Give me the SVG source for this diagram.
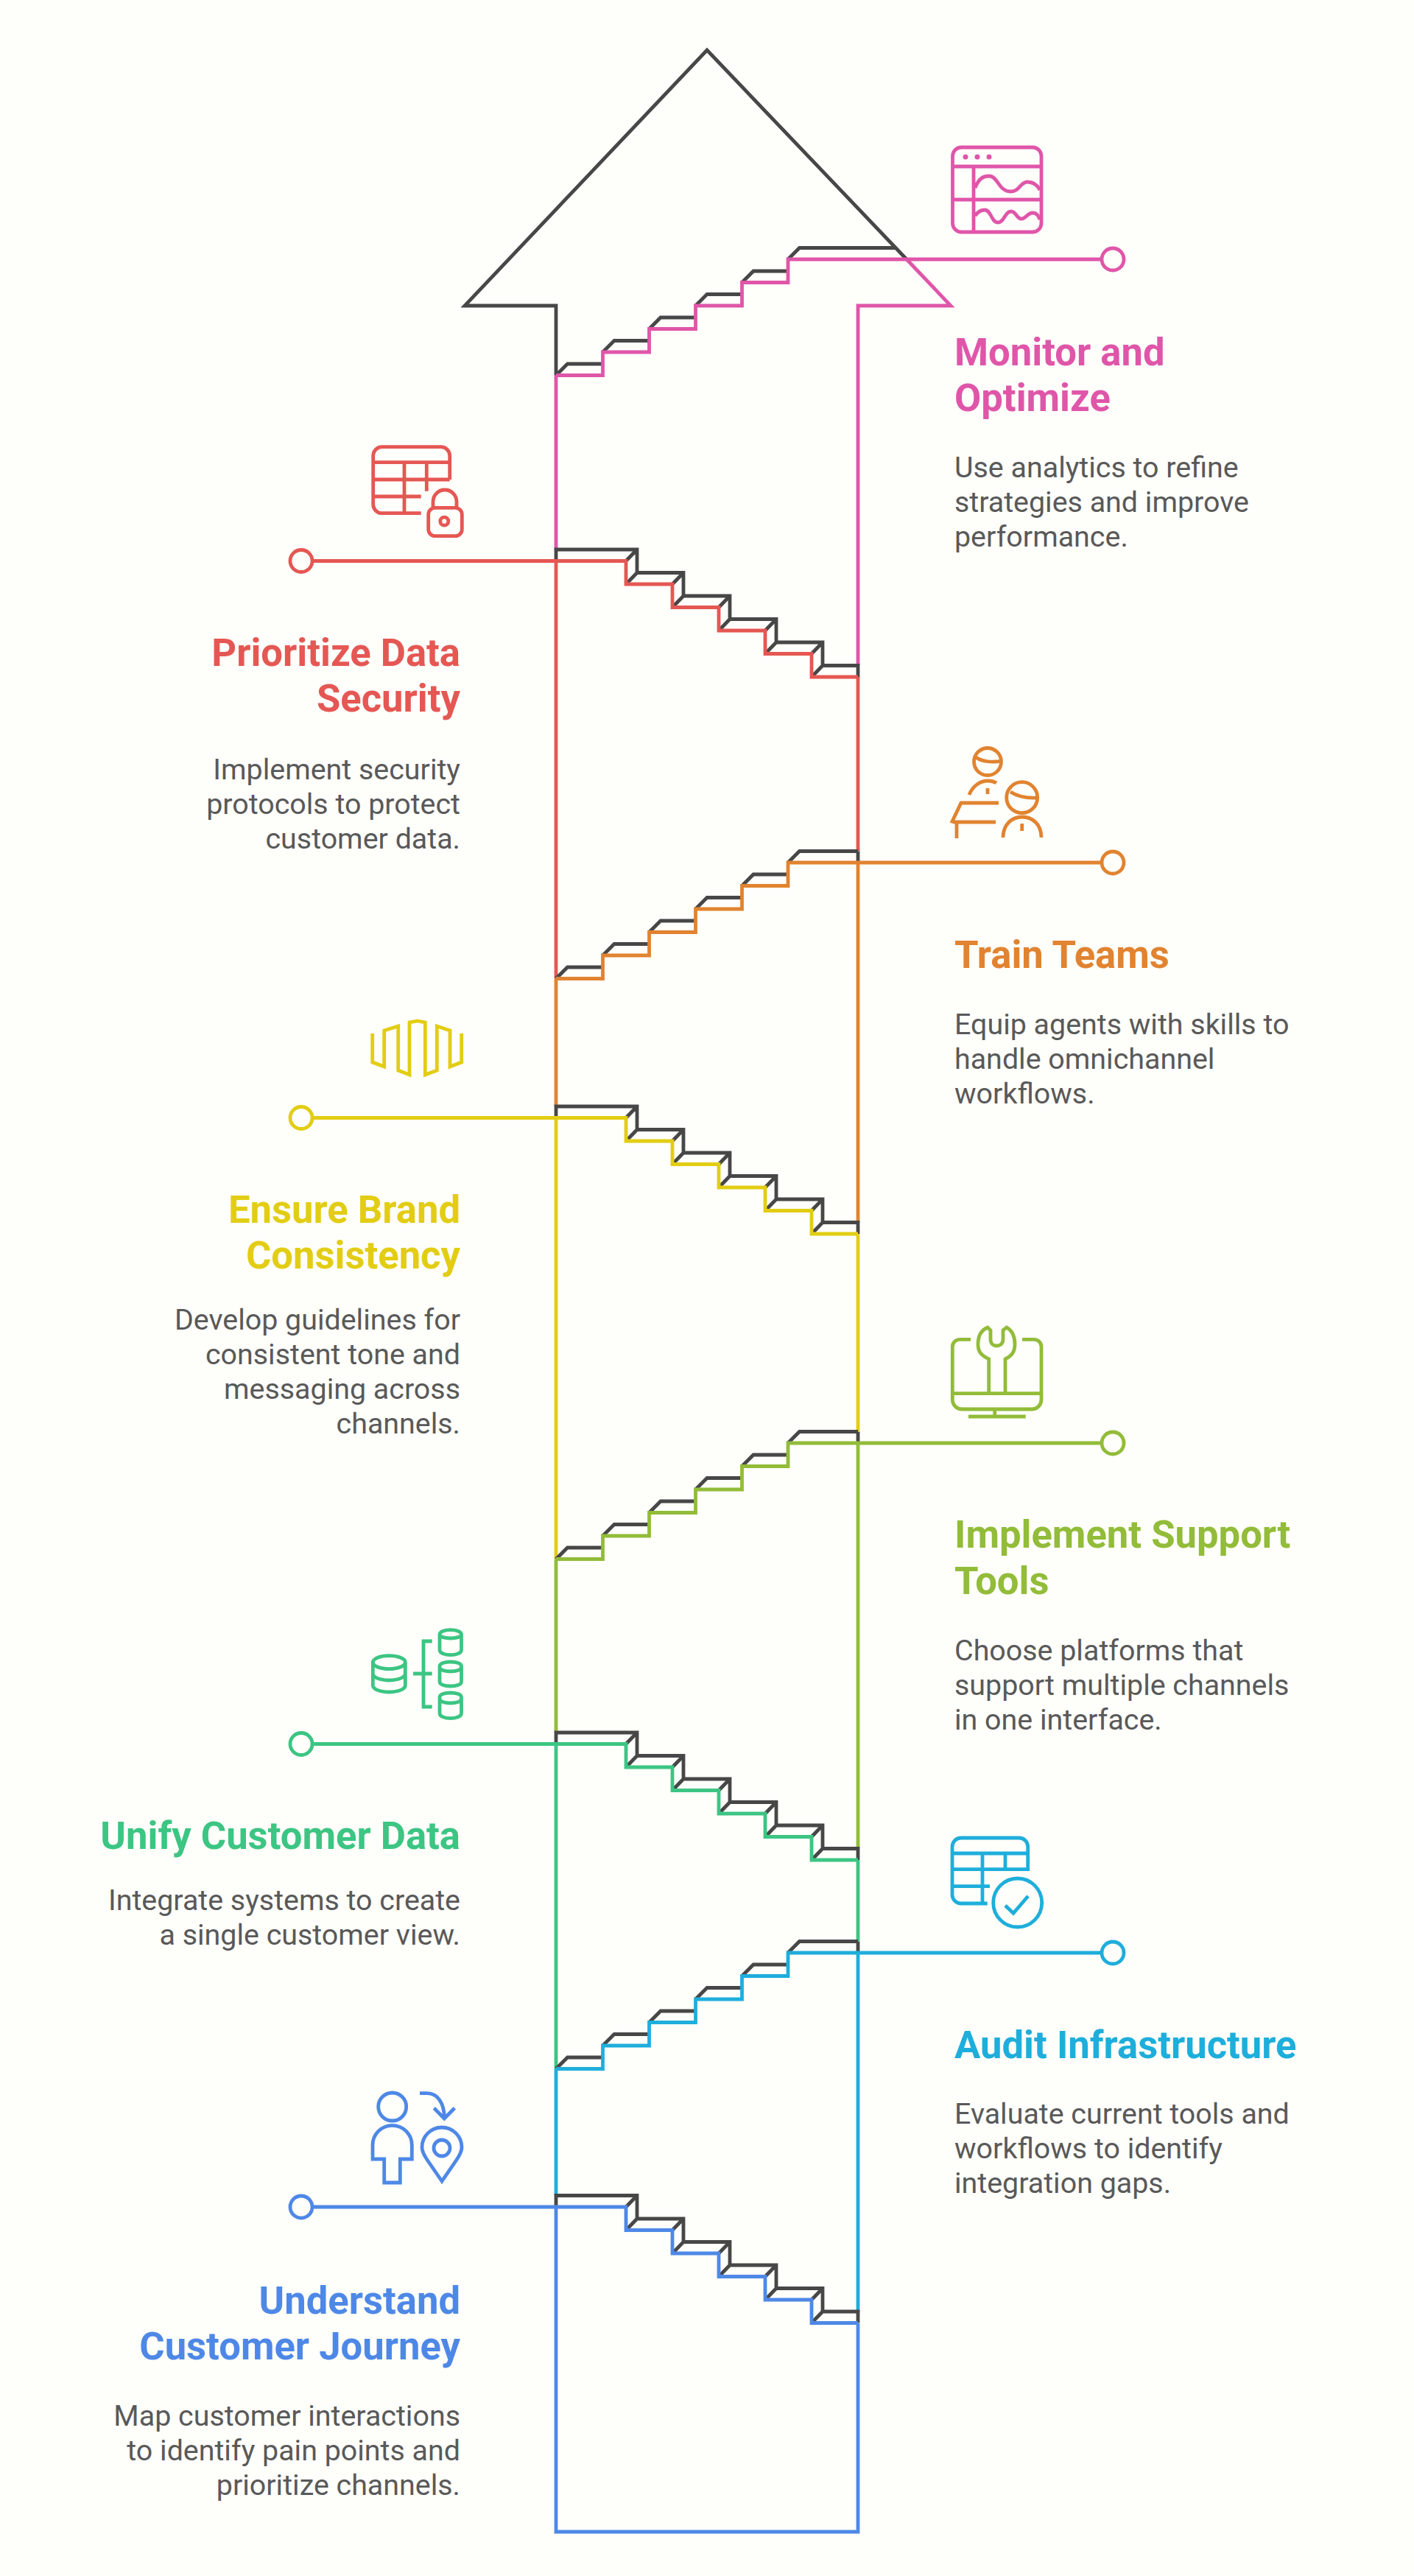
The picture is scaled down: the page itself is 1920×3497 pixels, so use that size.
<svg xmlns="http://www.w3.org/2000/svg" width="1920" height="3497" viewBox="0 0 1920 3497">
<style>
text{font-family:Roboto,"Liberation Sans",sans-serif}
.t{font-size:52.6px;font-weight:700}
.b{font-size:39.4px;fill:#595959}
.e{text-anchor:end}
path,circle,rect,ellipse,line{fill:none;stroke-width:4.8}
.d{stroke:#474747}
.pk{stroke:#DF56A9}.rd{stroke:#E55753}.or{stroke:#E18330}.yl{stroke:#E2CD14}.lm{stroke:#92BC39}.gr{stroke:#3CC583}.cy{stroke:#1EAEDB}.bl{stroke:#4E88E7}
.pkf{fill:#DF56A9}.rdf{fill:#E55753}.orf{fill:#E18330}.ylf{fill:#E2CD14}.lmf{fill:#92BC39}.grf{fill:#3CC583}.cyf{fill:#1EAEDB}.blf{fill:#4E88E7}
</style>
<defs>
<path id="dn" d="M-331,0H95V31.5H158V63H221V94.5H284V126H347V157.5H410"/>
<path id="dnd" d="M0,0V-15.5H110V16H173V47.5H236V79H299V110.5H362V142H410V157.5M95,0L110,-15.5M95,31.5L110,16M158,31.5L173,16M158,63L173,47.5M221,63L236,47.5M221,94.5L236,79M284,94.5L299,79M284,126L299,110.5M347,126L362,110.5M347,157.5L362,142"/>
<path id="up" d="M0,157.5H63.5V126H126.5V94.5H189.5V63H252.5V31.5H315V0H741"/>
<path id="upd" d="M0,157.5L15.5,142H63.5M63.5,126L79,110.5H126.5M126.5,94.5L142,79H189.5M189.5,63L205,47.5H252.5M252.5,31.5L268,16H315M315,0L330.5,-15.5H410"/>
</defs>
<rect width="1920" height="3497" style="fill:#FEFEFA;stroke:none"/>
<g id="connectors">
<path class="d" d="M755,509V415H631L960,68L1231,352M1085,336.5H1216M1165,1155.5V1171M1165,1943.5V1959M1165,2635.5V2651"/>
<path class="pk" d="M1231,352L1291,415H1165V903.5M755,509V746"/>
<path class="rd" d="M755,761.5V1328.5M1165,919V1155.5"/>
<path class="or" d="M755,1328.5V1502M1165,1171V1659.5"/>
<path class="yl" d="M755,1517.5V2116.5M1165,1675V1943.5"/>
<path class="lm" d="M755,2116.5V2352M1165,1959V2509.5"/>
<path class="gr" d="M755,2367.5V2808.5M1165,2525V2635.5"/>
<path class="cy" d="M755,2808.5V2980.5M1165,2651V3138.5"/>
<path class="bl" d="M755,2996V3437H1165V3154"/>
<use href="#upd" class="d" transform="translate(755,352)"/><use href="#up" class="pk" transform="translate(755,352)"/>
<use href="#dnd" class="d" transform="translate(755,761.5)"/><use href="#dn" class="rd" transform="translate(755,761.5)"/>
<use href="#upd" class="d" transform="translate(755,1171)"/><use href="#up" class="or" transform="translate(755,1171)"/>
<use href="#dnd" class="d" transform="translate(755,1517.5)"/><use href="#dn" class="yl" transform="translate(755,1517.5)"/>
<use href="#upd" class="d" transform="translate(755,1959)"/><use href="#up" class="lm" transform="translate(755,1959)"/>
<use href="#dnd" class="d" transform="translate(755,2367.5)"/><use href="#dn" class="gr" transform="translate(755,2367.5)"/>
<use href="#upd" class="d" transform="translate(755,2651)"/><use href="#up" class="cy" transform="translate(755,2651)"/>
<use href="#dnd" class="d" transform="translate(755,2996)"/><use href="#dn" class="bl" transform="translate(755,2996)"/>
</g>
<g id="node-monitor">
<circle class="pk" cx="1511" cy="352" r="15"/>
<rect class="pk" x="1293.5" y="200" width="120.5" height="115" rx="12"/><path class="pk" d="M1293.5,226H1414M1322,226V315M1293.5,271H1414M1324,255C1330,240 1337,239 1343,239C1355,239 1356,260 1372,260C1385,260 1385,247 1395,247C1404,247 1409,252 1412,258M1324,293C1328,287 1332,285 1337,285C1346,285 1346,302 1355,302C1364,302 1364,287 1373,287C1380,287 1380,297 1387,297C1393,297 1395,289 1402,289C1408,289 1410,293 1412,298"/>
<circle cx="1311" cy="213" r="3.5" style="fill:#DF56A9;stroke:none"/><circle cx="1327" cy="213" r="3.5" style="fill:#DF56A9;stroke:none"/><circle cx="1343" cy="213" r="3.5" style="fill:#DF56A9;stroke:none"/>
<text class="t pkf" x="1296" y="496">Monitor and</text><text class="t pkf" x="1296" y="558">Optimize</text>
<text class="b" x="1296" y="648">Use analytics to refine</text><text class="b" x="1296" y="695">strategies and improve</text><text class="b" x="1296" y="742">performance.</text>
</g>
<g id="node-security">
<circle class="rd" cx="409" cy="761.5" r="15"/>
<path class="rd" d="M571.7,696.7H518.7A12,12 0 0 1 506.7,684.7V618.7A12,12 0 0 1 518.7,606.7H598.7A12,12 0 0 1 610.7,618.7V651M506.7,627.7H610.7M506.7,651H610.7M506.7,674H571.7M549,627.7V696.7M579.3,627.7V666.7"/>
<rect class="rd" x="581.7" y="689.3" width="45.6" height="38.4" rx="9"/><path class="rd" d="M588,689.3V681A16,16 0 0 1 620,681V689.3"/><circle class="rd" cx="603.3" cy="707.7" r="5.5"/>
<text class="t rdf e" x="625" y="904">Prioritize Data</text><text class="t rdf e" x="625" y="966">Security</text>
<text class="b e" x="625" y="1058">Implement security</text><text class="b e" x="625" y="1105">protocols to protect</text><text class="b e" x="625" y="1152">customer data.</text>
</g>
<g id="node-train">
<circle class="or" cx="1511" cy="1171" r="15"/>
<circle class="or" cx="1341" cy="1034" r="18.5"/><circle class="or" cx="1387.7" cy="1082.7" r="21"/>
<path class="or" d="M1325,1028C1332,1033 1345,1036 1360,1033M1372,1075C1380,1080 1393,1084 1408,1083M1316,1079C1321,1066 1332,1060 1341,1060C1346,1060 1350,1061 1353,1063M1341,1070V1078M1356,1090H1305L1293,1115L1296,1116H1352M1299,1116V1138M1362,1137C1362,1119 1374,1109 1388,1109C1402,1109 1414,1119 1414,1137M1387.7,1118V1128"/>
<text class="t orf" x="1296" y="1314">Train Teams</text>
<text class="b" x="1296" y="1404">Equip agents with skills to</text><text class="b" x="1296" y="1451">handle omnichannel</text><text class="b" x="1296" y="1498">workflows.</text>
</g>
<g id="node-brand">
<circle class="yl" cx="409" cy="1517.5" r="15"/>
<path class="yl" d="M505.7,1403V1442L521.7,1448V1399L540.7,1393V1453L556,1459V1388L566.7,1386L577.3,1388V1459L593.3,1453V1393L611,1399V1448L626.7,1442V1403"/>
<text class="t ylf e" x="625" y="1660">Ensure Brand</text><text class="t ylf e" x="625" y="1722">Consistency</text>
<text class="b e" x="625" y="1805">Develop guidelines for</text><text class="b e" x="625" y="1852">consistent tone and</text><text class="b e" x="625" y="1899">messaging across</text><text class="b e" x="625" y="1946">channels.</text>
</g>
<g id="node-tools">
<circle class="lm" cx="1511" cy="1959" r="15"/>
<path class="lm" d="M1318,1818.3H1303.3A10,10 0 0 0 1293.3,1828.3V1900A13,13 0 0 0 1306.3,1913H1401A13,13 0 0 0 1414,1900V1828.3A10,10 0 0 0 1404,1818.3H1388M1293.3,1891.7H1414M1350.7,1913V1923M1315,1923H1392.7M1342.7,1890V1845C1333,1840 1328,1836 1328,1825C1328,1812 1334,1805 1341,1802L1345,1806V1818C1345,1825 1350,1827 1353,1827C1357,1827 1362,1825 1362,1818V1806L1367,1802C1374,1806 1378,1813 1378,1825C1378,1836 1373,1841 1365,1845V1890"/>
<text class="t lmf" x="1296" y="2101">Implement Support</text><text class="t lmf" x="1296" y="2163.5">Tools</text>
<text class="b" x="1296" y="2253.5">Choose platforms that</text><text class="b" x="1296" y="2300.8">support multiple channels</text><text class="b" x="1296" y="2348">in one interface.</text>
</g>
<g id="node-data">
<circle class="gr" cx="409" cy="2367.5" r="15"/>
<ellipse class="gr" cx="528.3" cy="2256.7" rx="22" ry="9"/>
<path class="gr" d="M506.3,2256.7V2288C506.3,2293 516,2297 528.3,2297C540.6,2297 550.3,2293 550.3,2288V2256.7M506.3,2272C506.3,2277 516,2281 528.3,2281C540.6,2281 550.3,2277 550.3,2272M586.7,2228H575V2317H586.7M561,2272H586.7"/>
<path class="gr" d="M597,2219C597,2215 604,2212.7 611.7,2212.7C619.4,2212.7 626.5,2215 626.5,2219V2240C626.5,2244 619.4,2246.7 611.7,2246.7C604,2246.7 597,2244 597,2240ZM597,2219C597,2222 604,2224 611.7,2224C619.4,2224 626.5,2222 626.5,2219"/>
<path class="gr" d="M597,2262C597,2258 604,2256 611.7,2256C619.4,2256 626.5,2258 626.5,2262V2283C626.5,2287 619.4,2289 611.7,2289C604,2289 597,2287 597,2283ZM597,2263C597,2267 604,2269 611.7,2269C619.4,2269 626.5,2267 626.5,2263"/>
<path class="gr" d="M597,2304C597,2300 604,2298 611.7,2298C619.4,2298 626.5,2300 626.5,2304V2326C626.5,2330 619.4,2332.7 611.7,2332.7C604,2332.7 597,2330 597,2326ZM597,2306C597,2310 604,2312 611.7,2312C619.4,2312 626.5,2310 626.5,2306"/>
<text class="t grf e" x="625" y="2510">Unify Customer Data</text>
<text class="b e" x="625" y="2593">Integrate systems to create</text><text class="b e" x="625" y="2640">a single customer view.</text>
</g>
<g id="node-audit">
<circle class="cy" cx="1511" cy="2651" r="15"/>
<path class="cy" d="M1340.7,2584H1305A12,12 0 0 1 1293,2572V2507A12,12 0 0 1 1305,2495H1383.7A12,12 0 0 1 1395.7,2507V2540M1293,2516H1395.7M1293,2537.7H1395.7M1293,2560.7H1344M1334,2516V2584M1365,2516V2540"/>
<circle class="cy" cx="1381.7" cy="2583" r="33"/><path class="cy" d="M1365,2586.7L1376,2597.3L1396,2574"/>
<text class="t cyf" x="1296" y="2794">Audit Infrastructure</text>
<text class="b" x="1296" y="2883">Evaluate current tools and</text><text class="b" x="1296" y="2930">workflows to identify</text><text class="b" x="1296" y="2977">integration gaps.</text>
</g>
<g id="node-journey">
<circle class="bl" cx="409" cy="2996" r="15"/>
<circle class="bl" cx="532.7" cy="2860" r="19"/>
<path class="bl" d="M506,2931V2912A26.6,26.6 0 0 1 559.3,2912V2931H543.3V2963H521.7V2931ZM570,2841.7H580C594,2841.7 603.3,2855 603.3,2875M589.3,2861.7L603.3,2876L617.3,2861.7M600,2961L580,2932C576,2926 573,2921 573,2915A27,27 0 0 1 627,2915C627,2921 624,2926 620,2932Z"/>
<circle class="bl" cx="600" cy="2916" r="11"/>
<text class="t blf e" x="625" y="3141">Understand</text><text class="t blf e" x="625" y="3203">Customer Journey</text>
<text class="b e" x="625" y="3293">Map customer interactions</text><text class="b e" x="625" y="3340">to identify pain points and</text><text class="b e" x="625" y="3387">prioritize channels.</text>
</g>
</svg>
